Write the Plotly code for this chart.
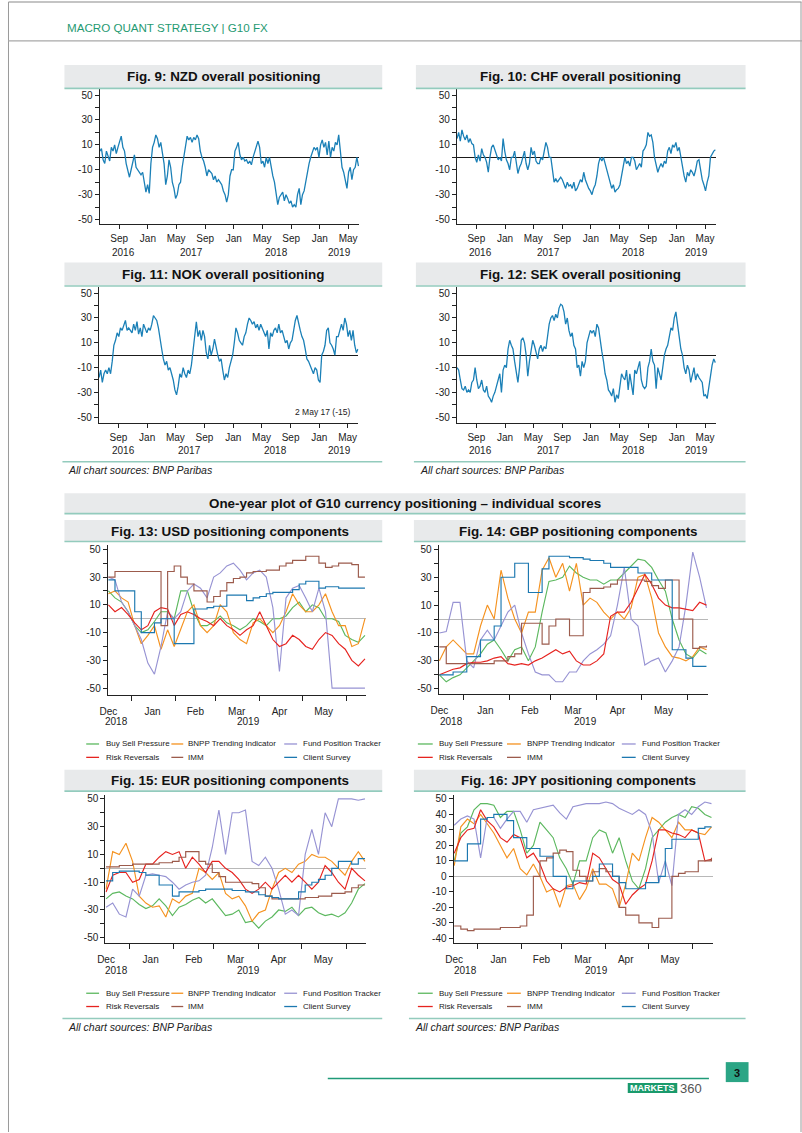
import plotly.graph_objects as go
import pandas as pd

W, H = 802, 1133

# ---------------- DATA ----------------
NZD = [5,7,-2,-5,5,0,-3,8,5,10, 3,8,12,17,8,5,-5,-12,-16,-10, -5,2,-8,-10,-12,-14,-12,-20,-28,-22,
       -29,-5,8,12,18,15,8,12,5,-5, -22,-15,-2,-8,-20,-25,-33,-30,-22,-20, -8,0,10,17,14,16,12,16,14,18,
       15,5,0,-3,-8,-15,-10,-12,-13,-18, -15,-20,-18,-20,-22,-27,-30,-36,-30,-15, -10,-10,5,8,12,2,-2,0,-3,-2,
       -5,-3,-6,0,5,10,13,8,-5,-3, -8,0,-5,0,-8,-15,-20,-30,-38,-32, -30,-28,-35,-30,-33,-37,-35,-40,-38,-40,
       -30,-25,-38,-30,-27,-20,-10,-5,0,5, 8,6,8,0,10,14,8,12,2,13, 0,8,5,12,10,18,5,-8,-12,-18,
       -25,-12,-8,-18,-10,-8,0,-7]
CHF = [15, 20,13,22,17,14,18,12,15,11,10, 0,-4,2,-3,7,2,0,-4,-12,0, 8,10,5,2,-2,0,-3,15,5,-2,
       -5,-10,0,0,5,-3,-13,-8,-5,0, 5,-5,-10,-5,8,2,5,-3,-5,-5, 0,-2,5,12,8,0,0,-12,-20,-17,
       -20,-18,-16,-18,-22,-25,-20,-23,-22,-25, -20,-27,-25,-22,-18,-20,-12,-18,-22,-25,
       -27,-30,-25,-22,-15,-5,0,-3,0,-5, -10,-15,-20,-25,-22,-28,-26,-25,-22,-15,
       -10,0,-5,-3,-7,0,0,-3,-10,-8, -5,-8,5,7,10,20,17,18,12,0, -5,-12,-8,-5,-8,-3,-5,5,8,3,
       10,8,12,5,8,0,-8,-15,-20,-12, -15,-10,-12,-15,-10,-3,-2,-10,-18,-22, -27,-20,-15,0,3,5,6]
NOK = [-18, -12,-22,-15,-12,-15,-10,-15,-5,8,12, 18,15,22,20,25,28,20,22,20,18, 25,20,27,17,22,15,25,22,18,22,
       20,25,32,30,28,22,15,5,-3,-8, -5,-12,-10,-15,-20,-28,-32,-25,-15,-18, -10,-15,-18,-12,-15,-8,5,18,27,15,
       20,12,20,15,2,-3,8,0,5,13, 5,0,-5,-3,-12,-20,-15,-18,-10,-5, 0,10,22,18,12,10,8,15,18,25,
       30,28,25,27,22,25,20,25,22,18, 15,20,5,18,15,20,22,18,25,18, 20,15,10,12,5,10,12,20,28,32,
       25,20,15,12,5,-3,-5,-8,-12,-15, -10,-12,-20,-22,0,3,8,20,22,10, 8,5,0,15,15,20,25,20,30,25,
       15,20,12,20,8,2,5]
SEK = [-10, -12,-20,-27,-28,-25,-30,-28,-30,-22,-20, -10,-20,-27,-25,-20,-28,-30,-25,-33,-35,
       -38,-33,-30,-25,-20,-15,-30,-12,-8,-10, 5,12,8,5,-5,-15,-22,-10,12,14, 10,0,-17,-5,5,12,8,2,-3,5,
       8,3,7,5,15,25,30,32,28,33, 30,38,41,40,35,25,30,20,15,18, 8,5,-10,-8,-17,-5,-10,-5,10,15,
       20,18,20,15,25,22,10,3,-5,-15, -20,-28,-30,-33,-27,-38,-32,-35,-25,-15, -18,-20,-12,-28,-15,-25,-32,-12,-15,-10,
       -5,-20,-25,-27,-25,-10,-5,5,-5,-8, -27,-10,-15,-20,-10,0,5,8,15,22, 20,30,35,22,15,5,0,-10,-15,-8,
       -12,-22,-15,-10,-20,-15,-18,-20,-22,-33, -32,-35,-25,-15,-8,-3,-6]

SERIES = ["Buy Sell Pressure", "BNPP Trending Indicator", "Fund Position Tracker",
          "Risk Reversals", "IMM", "Client Survey"]

usd_bsp = [20,15,12,5,-5,-10,-8,-2,5,5, 0,20,20,5,-5,-5,-2,2,-3,-5, -8,-5,0,-2,-5,0,0,2,8,12, 5,10,8,0,0,-2,-12,-15,-17,-12]
usd_bnpp = [18,20,15,12,-5,-18,-12,-5,-22,-8, -20,-8,5,10,-5,-10,-5,10,5,-10, -15,-18,-3,0,-5,-10,-5,5,18,10, 5,5,10,18,5,-5,-5,-20,-18,0]
usd_fpt = [30,28,12,5,-5,-15,-32,-40,-20,5, 0,5,20,25,22,15,30,33,38,40, 35,28,33,35,30,8,-38,15,22,24, 15,5,22,5,-50,-50,-50,-50,-50,-50]
usd_rr = [10,5,8,3,-3,-8,-5,5,8,7, -5,3,5,3,0,-2,-5,0,-5,-8, -12,-8,-5,5,-5,-15,-20,-18,-12,-15, -20,-22,-15,-10,-12,-18,-22,-30,-34,-29]
usd_imm = [30,34,34,34,34,34,34,34,-5,34, 38,30,25,20,20,12,16,20,26,29, 30,33,34,34,35,35,38,40,42,42, 45,45,40,37,38,40,40,39,30,30]
usd_cs = [28,20,20,20,5,-10,-10,-3,0,0, -18,-18,-18,7,7,8,9,9,17,17, 17,13,15,16,18,19,19,19,21,25, 27,27,22,23,23,22,22,22,22,22]

gbp_bsp = [-40,-45,-42,-40,-35,-30,-25,-18,-15,-22, -30,-22,-20,-30,-20,5,27,28,30,38, 33,30,28,28,25,28,28,33,38,43, 42,37,28,20,0,-15,-25,-28,-22,-25]
gbp_bnpp = [-30,-20,-15,-20,-25,-25,-5,10,0,35, 15,0,-10,5,5,35,44,30,40,20, 40,10,15,12,5,0,5,0,8,30, 32,15,-10,-20,-27,-28,-30,-27,-20,-22]
gbp_fpt = [-10,-9,12,12,-30,-35,-15,-8,-15,-5, 5,10,-10,-25,-38,-40,-40,-45,-45,-38, -38,-30,-25,-22,-18,-12,10,37,0,-5, -33,-30,-28,-38,-30,-20,10,48,30,8]
gbp_rr = [-40,-38,-36,-35,-32,-31,-31,-30,-28,-27, -32,-33,-32,-33,-30,-28,-25,-22,-25,-23, -30,-33,-33,-30,-25,2,5,5,12,22, 32,25,15,10,8,8,7,6,12,10]
gbp_imm = [-20,-32,-32,-32,-32,-32,-32,-32,-30,-30, -27,-25,-3,-3,-3,-18,-5,0,0,-12, -12,19,22,22,23,25,28,28,28,28, 27,24,22,28,28,0,0,-21,-20,-19]
gbp_cs = [-40,-40,-38,-38,-27,-27,-15,-15,-5,30, 30,40,40,19,19,36,45,45,45,44, 44,43,42,42,40,37,37,37,37,33, 33,28,28,28,-22,-22,-28,-34,-34,-34]

eur_bsp = [-22,-18,-17,-20,-22,-26,-29,-27,-22,-27, -34,-28,-26,-23,-21,-25,-22,-28,-34,-33, -30,-39,-38,-43,-38,-35,-30,-31,-28,-34, -29,-28,-32,-34,-33,-35,-32,-25,-15,-11]
eur_bnpp = [-15,12,10,18,5,-20,-25,-28,-27,-35, -22,-25,-20,-18,0,-3,-8,-3,-18,-22, -20,-27,-38,-32,-30,-15,-3,0,-3,3, 5,10,8,8,5,0,-5,5,12,5]
eur_fpt = [-28,-25,-33,-35,-15,-20,-5,-4,-5,-6, -10,-15,-12,-10,-9,-5,15,42,10,40, 40,42,5,2,8,0,-15,-33,-30,-34, 10,28,10,40,30,50,50,50,49,50]
eur_rr = [-17,-5,-3,-3,-10,-8,3,3,8,12, 10,12,0,8,3,-3,5,5,0,-3, -8,-15,-18,-15,-10,-15,-10,-5,-10,-5, -10,-15,-10,2,-3,-10,-15,0,-5,-9]
eur_imm = [1,1,2,2,3,3,3,3,4,4, 5,8,12,12,5,3,-3,-6,-10,-10, -10,-10,-11,-14,-20,-22,-22,-22,-22,-22, -21,-21,-20,-20,-18,-18,-17,-14,-12,-12]
eur_cs = [-9,-3,-2,-2,-2,-3,-5,-5,-12,-12, -20,-17,-17,-17,-16,-15,-15,-15,-15,-16, -16,-17,-17,-19,-20,-21,-22,-22,-22,-17, -12,-10,-8,-5,0,5,5,3,7,7]

jpy_bsp = [10,28,32,43,47,47,46,38,42,42, 30,15,20,35,30,25,12,5,-5,10, 10,25,30,28,15,25,10,-3,-8,5, 25,30,35,38,40,38,45,44,40,38]
jpy_bnpp = [7,32,37,34,40,34,28,20,12,18, 5,1,8,0,-10,-8,-20,-6,-5,-15, -8,5,-5,-5,-8,-20,-5,15,10,25, 38,35,30,25,35,30,30,28,27,32]
jpy_fpt = [33,37,39,37,12,38,38,31,37,42, 42,35,43,44,45,46,41,37,45,46, 47,47,47,48,47,44,42,40,43,40, 28,-4,10,-6,40,43,40,45,48,47]
jpy_rr = [15,25,30,31,43,36,32,25,22,27, 25,12,15,8,-3,-8,-10,-7,-6,-4, -5,15,12,5,-2,-5,-18,-12,-8,-5, 10,30,30,28,27,25,30,28,10,11]
jpy_imm = [-32,-34,-35,-34,-34,-34,-34,-33,-33,-33, -32,-25,0,10,12,15,17,16,4,0, -3,3,5,3,0,-20,-25,-25,-30,-30, -33,-27,-27,0,2,3,3,10,10,12]
jpy_cs = [10,10,21,21,37,38,40,40,36,25, 25,18,18,13,13,0,0,-8,-3,-3, -3,0,8,8,0,-4,-8,-8,-8,-4, -4,0,18,24,24,24,24,31,32,32]

TOP_TICKS = ["2016-09-01", "2017-01-01", "2017-05-01", "2017-09-01", "2018-01-01",
             "2018-05-01", "2018-09-01", "2019-01-01", "2019-05-01"]
TOP_TICKTEXT = ["Sep", "Jan", "May", "Sep", "Jan", "May", "Sep", "Jan", "May"]
BOT_LABELS = ["2018-12-16", "2019-01-16", "2019-02-15", "2019-03-16", "2019-04-15", "2019-05-16"]
BOT_TICKTEXT = ["Dec", "Jan", "Feb", "Mar", "Apr", "May"]
BOT_BOUNDS = ["2019-01-01", "2019-02-01", "2019-03-01", "2019-04-01", "2019-05-01", "2019-06-01"]

# ---------------- STYLE ----------------
FONT = "Liberation Sans, Arial, sans-serif"
TEAL = "#1f9a72"
LTEAL = "#93cbbd"
BAND = "#e8eaeb"
BLUE_TOP = "#1b80b7"
COLORS = ["#5cb85f", "#f5921f", "#9793d3", "#e6231f", "#9c5b4c", "#1c78b0"]


def xd(a, b):
    return [a / W, b / W]


def yd(top, bottom):
    return [1 - bottom / H, 1 - top / H]


def px(x):
    return x / W


def py(y):
    return 1 - y / H


fig = go.Figure()
layout = {}
shapes = []
ann = []


def add_text(x, y, text, size=10, color="#222", anchor="center", family=FONT, bold=False, italic=False):
    t = text
    if bold:
        t = "<b>" + t + "</b>"
    if italic:
        t = "<i>" + t + "</i>"
    ann.append(dict(x=px(x), y=py(y), xref="paper", yref="paper", text=t, showarrow=False,
                    xanchor=anchor, yanchor="middle", font=dict(size=size, color=color, family=family)))


def add_rect(x0, y0, x1, y1, fill):
    shapes.append(dict(type="rect", xref="paper", yref="paper", x0=px(x0), x1=px(x1), y0=py(y1), y1=py(y0),
                       fillcolor=fill, line=dict(width=0), layer="below"))


def add_line(x0, y0, x1, y1, color, width=1):
    shapes.append(dict(type="line", xref="paper", yref="paper", x0=px(x0), x1=px(x1), y0=py(y0), y1=py(y1),
                       line=dict(color=color, width=width)))


# page frame & header
add_line(0.5, 1, 801.5, 1, "#8a8a8a", 1.2)
add_line(0.5, 1, 0.5, 1133, "#9a9a9a", 1)
add_line(801.0, 1, 801.0, 1133, "#9a9a9a", 1)
add_line(0, 40, 802, 40, "#a8a8a8", 1.2)
add_text(58, 27, "MACRO QUANT STRATEGY | G10 FX", size=11.6, color=TEAL, anchor="left")


def title_band(x0, x1, y0, y1, text, cx=None):
    add_rect(x0, y0, x1, y1, BAND)
    add_line(x0, y1 + 0.5, x1, y1 + 0.5, LTEAL, 1.6)
    add_text(cx if cx else (x0 + x1) / 2, (y0 + y1) / 2 + 0.5, text, size=13.4, color="#111", bold=True)


title_band(57, 378, 64, 87, "Fig. 9: NZD overall positioning")
title_band(412, 745, 64, 87, "Fig. 10: CHF overall positioning")
title_band(57, 378, 262, 285, "Fig. 11: NOK overall positioning")
title_band(412, 745, 262, 285, "Fig. 12: SEK overall positioning")
title_band(57, 745, 493, 513, "One-year plot of G10 currency positioning \u2013 individual scores", cx=401)
title_band(57, 378, 520, 541, "Fig. 13: USD positioning components", cx=224)
title_band(410, 745, 520, 541, "Fig. 14: GBP positioning components", cx=576)
title_band(57, 378, 770, 791, "Fig. 15: EUR positioning components", cx=224)
title_band(410, 745, 770, 791, "Fig. 16: JPY positioning components", cx=576)

# source lines
for (x0, x1, yl) in [(55, 378, 461.5), (410, 745, 461.5), (55, 378, 1019.3), (405, 745, 1019.3)]:
    add_line(x0, yl, x1, yl, LTEAL, 1.6)
add_text(59, 470, "All chart sources: BNP Paribas", size=10.5, anchor="left", italic=True)
add_text(414, 470, "All chart sources: BNP Paribas", size=10.5, anchor="left", italic=True)
add_text(59, 1028, "All chart sources: BNP Paribas", size=10.5, anchor="left", italic=True)
add_text(409, 1028, "All chart sources: BNP Paribas", size=10.5, anchor="left", italic=True)

# footer
add_line(323, 1079.3, 708, 1079.3, "#1f9a78", 1.5)
add_rect(725, 1063, 748, 1083, "#2ba585")
add_text(736.5, 1073.5, "3", size=11, color="#111", bold=True)
add_rect(626, 1084, 676, 1094, "#1a9a6c")
add_text(651, 1089.3, "MARKETS", size=9, color="white", bold=True)
add_text(677, 1089.5, "360", size=13, color="#555", anchor="left")

# ---------------- PANELS ----------------


def top_panel(i, values, xdom, ydom, yrange, years, yr_rows):
    xn = "x" if i == 1 else "x%d" % i
    yn = "y" if i == 1 else "y%d" % i
    dates = pd.date_range("2016-06-11", "2019-06-14", periods=len(values))
    fig.add_trace(go.Scatter(x=dates, y=values, mode="lines", line=dict(color=BLUE_TOP, width=1.3),
                             xaxis=xn, yaxis=yn, showlegend=False, hoverinfo="skip"))
    layout["xaxis" if i == 1 else "xaxis%d" % i] = dict(
        domain=xd(*xdom), anchor=yn, type="date", range=["2016-06-10", "2019-06-16"],
        showline=True, linecolor="#222", linewidth=1, showgrid=False, zeroline=False,
        ticks="outside", ticklen=4, tickcolor="#222", tickmode="array", tickvals=TOP_TICKS,
        ticktext=TOP_TICKTEXT, tickfont=dict(size=10, color="#222", family=FONT), ticklabelstandoff=1)
    layout["yaxis" if i == 1 else "yaxis%d" % i] = dict(
        domain=yd(*ydom), anchor=xn, range=yrange, showline=True, linecolor="#222", linewidth=1,
        showgrid=False, zeroline=True, zerolinecolor="#1a1a1a", zerolinewidth=1.3,
        ticks="outside", ticklen=4, tickcolor="#222", tickmode="array", tickvals=[-50, -30, -10, 10, 30, 50],
        ticktext=["-50", "-30", "-10", "10", "30", "50"], tickfont=dict(size=10, color="#222", family=FONT),
        minor=dict(tickmode="array", tickvals=[-40, -20, 0, 20, 40], ticks="outside", ticklen=4, tickcolor="#222"))
    for (txt, xx) in years:
        add_text(xx, yr_rows, txt, size=10)


top_panel(1, NZD, (92.5, 354.5), (88, 223.3), [-53.5, 55],
          [("2016", 116.7), ("2017", 185), ("2018", 271), ("2019", 335)], 252.3)
top_panel(2, CHF, (453.3, 715), (88, 223.3), [-53.5, 55],
          [("2016", 477.7), ("2017", 546), ("2018", 631.7), ("2019", 695.7)], 252.3)
top_panel(3, NOK, (91.7, 354), (286.5, 422.5), [-54.5, 55],
          [("2016", 116.7), ("2017", 183.3), ("2018", 270), ("2019", 335)], 450)
top_panel(4, SEK, (453.3, 715), (286.5, 422.5), [-54.5, 55],
          [("2016", 477.7), ("2017", 546), ("2018", 632.3), ("2019", 695.7)], 450.5)
add_text(347.7, 411.7, "2 May 17 (-15)", size=8.5, anchor="right")


def bottom_panel(i, series, xdom, ydom, yrange, years, yr_row, legend, fig16=False):
    xn = "x%d" % i
    yn = "y%d" % i
    for k, vals in enumerate(series):
        dates = pd.date_range("2018-12-16", "2019-06-14", periods=len(vals))
        shape = "hv" if k in (4, 5) else "linear"
        fig.add_trace(go.Scatter(x=dates, y=vals, mode="lines", name=SERIES[k],
                                 line=dict(color=COLORS[k], width=1.15, shape=shape),
                                 xaxis=xn, yaxis=yn, showlegend=False, hoverinfo="skip"))
    layout["xaxis%d" % i] = dict(
        domain=xd(*xdom), anchor=yn, type="date", range=["2018-12-15 12:00", "2019-06-15"],
        showline=True, linecolor="#222", linewidth=1, showgrid=False, zeroline=False,
        ticks="outside", ticklen=5, tickcolor="rgba(0,0,0,0)", tickmode="array", tickvals=BOT_LABELS,
        ticktext=BOT_TICKTEXT, tickfont=dict(size=10, color="#222", family=FONT), ticklabelstandoff=2,
        minor=dict(tickmode="array", tickvals=BOT_BOUNDS, ticks="outside", ticklen=5, tickcolor="#222"))
    if fig16:
        tv = list(range(-40, 51, 10))
        minor = None
    else:
        tv = [-50, -30, -10, 10, 30, 50]
        minor = dict(tickmode="array", tickvals=[-40, -20, 0, 20, 40], ticks="outside", ticklen=4,
                     tickcolor="#222")
    yax = dict(domain=yd(*ydom), anchor=xn, range=yrange, showline=True, linecolor="#222", linewidth=1,
               showgrid=False, zeroline=True, zerolinecolor="#b8b8b8", zerolinewidth=1.3,
               ticks="outside", ticklen=4, tickcolor="#222", tickmode="array", tickvals=tv,
               ticktext=[str(v) for v in tv], tickfont=dict(size=10, color="#222", family=FONT))
    if minor:
        yax["minor"] = minor
    layout["yaxis%d" % i] = yax
    for (txt, xx) in years:
        add_text(xx, yr_row, txt, size=10)
    rows, lines, texts = legend
    order = [(0, 0, 0), (1, 0, 1), (2, 0, 2), (3, 1, 0), (4, 1, 1), (5, 1, 2)]
    for (k, r, c) in order:
        add_line(lines[c][0], rows[r], lines[c][1], rows[r], COLORS[k], 1.3)
        add_text(texts[c], rows[r], SERIES[k], size=8, anchor="left")


LEG_L = [(79, 92), (165, 177), (279, 292)]
TXT_L = [97, 180, 296]
LEG_R = [(414, 429), (504, 518), (620, 634)]
TXT_R = [433, 522, 638]
bottom_panel(5, [usd_bsp, usd_bnpp, usd_fpt, usd_rr, usd_imm, usd_cs], (100.7, 362), (545.1, 695.7),
             [-55.3, 53], [("2018", 110), ("2019", 243.3)], 721.7, ([744.3, 757.7], LEG_L, TXT_L))
bottom_panel(6, [gbp_bsp, gbp_bnpp, gbp_fpt, gbp_rr, gbp_imm, gbp_cs], (435, 707), (545.1, 694),
             [-53.6, 53], [("2018", 448.3), ("2019", 583.3)], 721.7, ([744.3, 757.7], LEG_R, TXT_R))
bottom_panel(7, [eur_bsp, eur_bnpp, eur_fpt, eur_rr, eur_imm, eur_cs], (98.3, 362), (795.1, 944),
             [-54, 53], [("2018", 110), ("2019", 243.3)], 971.7, ([994, 1007.3], LEG_L, TXT_L))
bottom_panel(8, [jpy_bsp, jpy_bnpp, jpy_fpt, jpy_rr, jpy_imm, jpy_cs], (450, 712), (795, 944),
             [-43.2, 52.8], [("2018", 461.7), ("2019", 594)], 971.7, ([994, 1007.3], LEG_R, TXT_R),
             fig16=True)

fig.update_layout(width=W, height=H, margin=dict(l=0, r=0, t=0, b=0), paper_bgcolor="white",
                  plot_bgcolor="white", showlegend=False, shapes=shapes, annotations=ann,
                  font=dict(family=FONT, size=10, color="#222"), **layout)
fig.write_html("out.html", config={"displayModeBar": False})
